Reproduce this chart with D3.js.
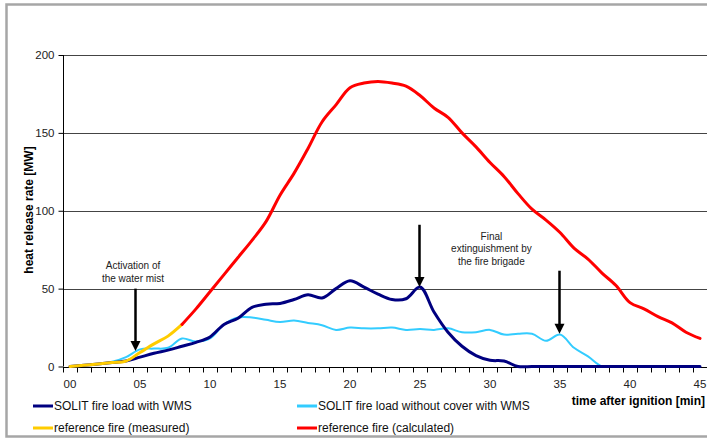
<!DOCTYPE html>
<html>
<head>
<meta charset="utf-8">
<script src="https://cdn.jsdelivr.net/npm/d3@7"></script>
<style>
  body { margin: 0; background: #fff; }
  svg { display: block; font-family: "Liberation Sans", Arial, sans-serif; }
  .axis path, .axis line { stroke: #000; }
  .axis text { font-size: 11.5px; fill: #222; }
  .grid line { stroke: #444; stroke-width: 1; }
</style>
</head>
<body>
<div id="chart"></div>
<script>
/* values, one value per minute */
var minutes = [0,1,2,3,4,5,6,7,8,9,10,11,12,13,14,15,16,17,18,19,20,21,22,23,24,25,26,27,28,29,30,31,32,33,34,35,36,37,38,39,40,41,42,43,44,45];

var withWMS = [0,0.8,1.6,2.5,3.5,6,8.5,10.5,13,15.5,19,27,31,38,40,40.5,43,46,44,50,55,51,46.5,43,43.5,51,35,22,13,7,4,3.5,0,0,0,0,0,0,0,0,0,0,0,0,0,0];

var withoutCover = [0,0.8,1.6,3,6,11,11.5,12,18,16,18,27,31.5,31.5,30,28.5,29.5,28,26.5,23.5,25,24.5,24.5,25,23.5,24,23.5,24.5,22,22,23.5,20.5,21,21,16.5,20.5,12,6.5,0,0,0,0,0,0,0,0];

/* measured reference fire: minutes 0..8 */
var refMeasured = [0,0.8,1.6,2.5,3.5,9,14.5,19.5,27];

/* calculated reference fire: minutes 8..45 */
var refCalcStart = 8;
var refCalculated = [27,37,48,59,70,81,93,110,124,140,157,168,179,182,183,182,180,174,166,160,150,141,131,122,111,101,94,86,76,69,60,52,41,37,32,28,22,18];

var yTicks = [0,50,100,150,200];
var xLabelTicks = [0,5,10,15,20,25,30,35,40,45];

var seriesNames = ["SOLIT fire load with WMS", "SOLIT fire load without cover with WMS",
                   "reference fire (measured)", "reference fire (calculated)"];
var seriesColors = ["#000080", "#33CCFF", "#FFCC00", "#FF0000"];

/* annotations: [minute, from value, to value] */
var arrows = [[4.65, 50, 10], [24.95, 91, 51], [34.9, 61.5, 21]];

var w = 707, h = 438;

var svg = d3.select("#chart").append("svg").attr("width", w).attr("height", h);

/* outer frame */
svg.append("rect")
  .attr("x", 6.5).attr("y", 4.5)
  .attr("width", 740).attr("height", 432)
  .attr("fill", "none")
  .attr("stroke", "#a6a6a6")
  .attr("stroke-width", 2.5);

var xScale = d3.scaleLinear().domain([-0.5, 45.5]).range([63, 707]);
var yScale = d3.scaleLinear().domain([0, 200]).range([366.5, 55]);

/* gridlines */
svg.append("g").attr("class", "grid")
  .selectAll("line").data(yTicks.slice(1)).enter()
  .append("line")
  .attr("x1", xScale(-0.5)).attr("x2", xScale(45.5))
  .attr("y1", function (d) { return Math.round(yScale(d)) + 0.5; })
  .attr("y2", function (d) { return Math.round(yScale(d)) + 0.5; });

/* y axis */
var yAxis = d3.axisLeft(yScale).tickValues(yTicks).tickSize(5).tickPadding(4);
svg.append("g").attr("class", "axis")
  .attr("transform", "translate(" + (xScale(-0.5) + 0.5) + ",0)")
  .call(yAxis)
  .call(function (g) { g.select(".domain").attr("d", "M0," + yScale(0) + "V" + yScale(200)); });

/* x axis: a tick between every minute, labels every 5 minutes */
var minorTicks = minutes.map(function (m) { return m - 0.5; }).concat([45.5]);
var xAxis = d3.axisBottom(xScale).tickValues(minorTicks).tickSize(5).tickFormat("");
svg.append("g").attr("class", "axis")
  .attr("transform", "translate(0," + (Math.round(yScale(0)) + 0.5) + ")")
  .call(xAxis)
  .call(function (g) { g.select(".domain").attr("d", "M" + xScale(-0.5) + ",0H" + xScale(45.5)); });

svg.append("g").attr("class", "axis")
  .selectAll("text").data(xLabelTicks).enter()
  .append("text")
  .attr("x", function (d) { return xScale(d); })
  .attr("y", 388)
  .attr("text-anchor", "middle")
  .text(function (d) { return d3.format("02d")(d); });

/* axis titles */
svg.append("text")
  .attr("transform", "translate(33,210) rotate(-90)")
  .attr("text-anchor", "middle")
  .style("font-size", "12px")
  .style("font-weight", "bold")
  .text("heat release rate [MW]");

svg.append("text")
  .attr("x", 705).attr("y", 405)
  .attr("text-anchor", "end")
  .style("font-size", "12px")
  .style("font-weight", "bold")
  .text("time after ignition [min]");

/* lines */
var line = d3.line()
  .x(function (d) { return xScale(d[0]); })
  .y(function (d) { return yScale(d[1]); })
  .curve(d3.curveCatmullRom.alpha(0.5));

function pairs(values, start) {
  return values.map(function (v, i) { return [start + i, v]; });
}

var series = [
  { data: pairs(withoutCover, 0), color: seriesColors[1], width: 2 },
  { data: pairs(withWMS, 0), color: seriesColors[0], width: 3 },
  { data: pairs(refMeasured, 0), color: seriesColors[2], width: 3 },
  { data: pairs(refCalculated, refCalcStart), color: seriesColors[3], width: 3 }
];

svg.append("g").selectAll("path").data(series).enter()
  .append("path")
  .attr("d", function (d) { return line(d.data); })
  .attr("fill", "none")
  .attr("stroke", function (d) { return d.color; })
  .attr("stroke-width", function (d) { return d.width; })
  .attr("stroke-linejoin", "round")
  .attr("stroke-linecap", "round");

/* arrows */
var arrowG = svg.append("g");
arrows.forEach(function (a) {
  var x = Math.round(xScale(a[0])) + 0.5;
  var y1 = yScale(a[1]), y2 = yScale(a[2]);
  arrowG.append("line")
    .attr("x1", x).attr("x2", x)
    .attr("y1", y1).attr("y2", y2 - 9)
    .attr("stroke", "#000").attr("stroke-width", 2.5);
  arrowG.append("path")
    .attr("d", "M" + (x - 5) + "," + (y2 - 10) + "L" + (x + 5) + "," + (y2 - 10) + "L" + x + "," + y2 + "Z")
    .attr("fill", "#000");
});

/* annotation texts */
function note(lines, t, v) {
  var txt = svg.append("text")
    .attr("text-anchor", "middle")
    .style("font-size", "10px")
    .style("fill", "#222");
  lines.forEach(function (s, i) {
    txt.append("tspan")
      .attr("x", xScale(t))
      .attr("y", yScale(v) + i * 12.5)
      .text(s);
  });
}
note(["Activation of", "the water mist"], 4.5, 62.5);
note(["Final", "extinguishment by", "the fire brigade"], 30.1, 81.5);

/* legend */
var legendPos = [[33, 406], [297, 406], [33, 428], [297, 428]];
var legend = svg.append("g").selectAll("g").data(seriesNames).enter()
  .append("g")
  .attr("transform", function (d, i) { return "translate(" + legendPos[i][0] + "," + legendPos[i][1] + ")"; });

legend.append("line")
  .attr("x1", 0).attr("x2", 20)
  .attr("y1", 0).attr("y2", 0)
  .attr("stroke", function (d, i) { return seriesColors[i]; })
  .attr("stroke-width", 3);

legend.append("text")
  .attr("x", 21).attr("y", 4)
  .style("font-size", "12px")
  .style("fill", "#111")
  .text(function (d) { return d; });
</script>
</body>
</html>
